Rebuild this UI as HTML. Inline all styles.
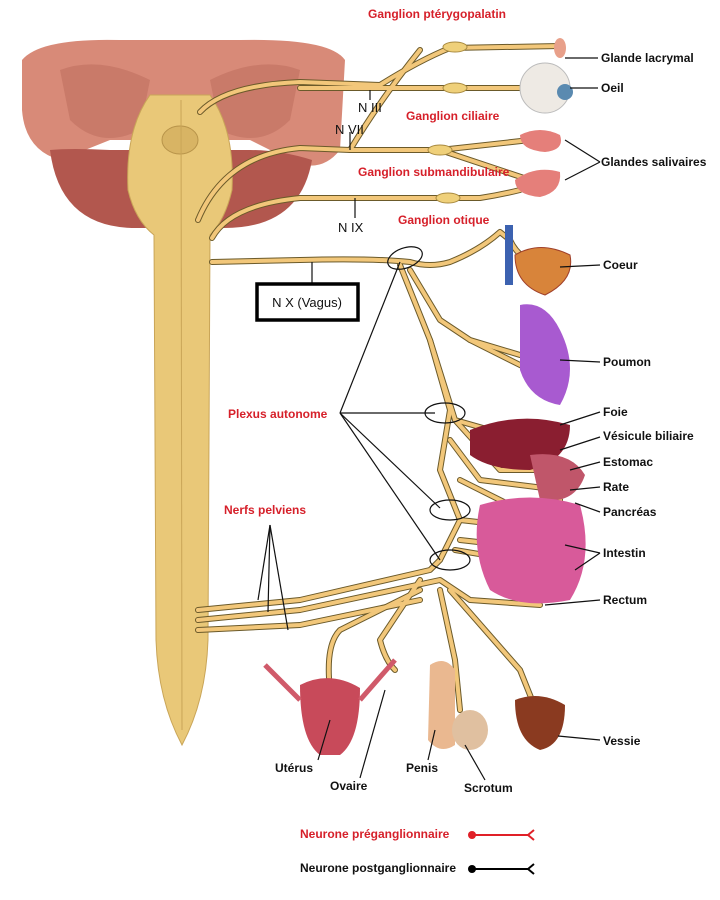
<!DOCTYPE html>
<html><head><meta charset="utf-8"><style>
html,body{margin:0;padding:0;background:#fff}
svg{display:block}
.r{font-family:"Liberation Sans",sans-serif;font-weight:bold;font-size:12px;fill:#d6202a}
.k{font-family:"Liberation Sans",sans-serif;font-weight:bold;font-size:12px;fill:#111}
.n{font-family:"Liberation Sans",sans-serif;font-size:13px;fill:#111}
.ln{fill:none;stroke:#111;stroke-width:1.2}
</style></head><body>
<svg width="720" height="900" viewBox="0 0 720 900" xmlns="http://www.w3.org/2000/svg">
<defs>
<g id="nerves" fill="none">
<path d="M200,112 Q225,85 300,82 L380,85 Q420,60 450,48 L560,46"/>
<path d="M300,88 L560,88"/>
<path d="M198,220 Q225,155 300,148 L350,150 Q380,100 420,50"/>
<path d="M350,150 L440,150 L530,140"/>
<path d="M440,150 L530,180"/>
<path d="M212,238 Q230,205 300,198 L420,198 L480,198 Q500,195 520,190"/>
<path d="M212,262 L300,260 Q370,258 410,262 Q430,268 450,262 Q480,250 500,232 L510,240 Q520,262 545,265"/>
<path d="M400,265 L430,340 L450,410 L440,470 L460,520 L440,560"/>
<path d="M410,270 L440,320 L470,340 L520,355"/>
<path d="M470,340 L530,370"/>
<path d="M430,340 L455,420 L490,430 L520,430"/>
<path d="M455,420 L500,470 L540,470"/>
<path d="M450,440 L480,480 L560,490"/>
<path d="M460,480 L520,510 L560,500"/>
<path d="M460,520 L550,530"/>
<path d="M460,540 L550,550"/>
<path d="M455,550 L545,565"/>
<path d="M198,610 L300,600 L430,570 L440,560"/>
<path d="M198,620 L300,610 L440,580 L470,600 L540,605"/>
<path d="M198,630 L300,625 L420,600"/>
<path d="M420,580 L380,640 Q385,660 395,670"/>
<path d="M420,590 L340,630 Q325,645 330,690"/>
<path d="M440,590 L455,660 L460,710"/>
<path d="M450,590 L520,670 L540,720"/>
</g>
</defs>
<!-- brain -->
<path d="M22,60 Q40,38 120,40 L240,40 Q330,38 345,60 L340,150 Q320,175 290,160 L250,140 L110,140 L60,160 Q25,150 22,110 Z" fill="#d88a78"/>
<path d="M50,150 Q60,230 140,228 L220,228 Q300,230 312,160 Q280,150 250,150 L110,150 Q70,148 50,150Z" fill="#b2574e"/>
<path d="M60,70 Q100,55 150,80 L140,130 Q100,150 70,120Z" fill="#c97a69"/>
<path d="M300,70 Q260,55 210,80 L220,130 Q260,150 290,120Z" fill="#c97a69"/>
<!-- brainstem & cord -->
<path d="M150,95 L210,95 Q235,130 232,190 Q225,220 210,235 L208,640 Q206,700 182,745 Q158,700 156,640 L154,235 Q135,220 128,190 Q125,130 150,95Z" fill="#e9c878" stroke="#c9a558" stroke-width="1"/>
<ellipse cx="180" cy="140" rx="18" ry="14" fill="#d8b464" stroke="#b8944a"/>
<line x1="181" y1="100" x2="182" y2="730" stroke="#c9a558" stroke-width="1"/>
<!-- nerves -->
<use href="#nerves" stroke="#6b5a2a" stroke-width="6" stroke-linecap="round" stroke-linejoin="round"/>
<use href="#nerves" stroke="#f2c77a" stroke-width="4" stroke-linecap="round" stroke-linejoin="round"/>
<!-- ganglia -->
<g fill="#efd07a" stroke="#a88a40"><ellipse cx="455" cy="47" rx="12" ry="5"/><ellipse cx="455" cy="88" rx="12" ry="5"/><ellipse cx="440" cy="150" rx="12" ry="5"/><ellipse cx="448" cy="198" rx="12" ry="5"/></g>
<!-- organs -->
<ellipse cx="560" cy="48" rx="6" ry="10" fill="#e8a08a"/>
<circle cx="545" cy="88" r="25" fill="#eeeae4" stroke="#bbb"/><circle cx="565" cy="92" r="8" fill="#5a8ab0"/>
<path d="M520,135 Q540,125 560,135 Q565,150 545,152 Q520,150 520,135Z" fill="#e57f7a"/>
<path d="M515,180 Q535,165 560,172 Q562,192 540,197 Q515,195 515,180Z" fill="#e57f7a"/>
<rect x="505" y="225" width="8" height="60" fill="#3c62b0"/>
<path d="M515,255 Q540,240 570,255 Q575,280 545,295 Q515,285 515,255Z" fill="#d8843a" stroke="#a0402a"/>
<path d="M520,305 Q545,300 560,330 Q580,370 560,405 Q530,400 520,370Z" fill="#a85ad0"/>
<path d="M470,430 Q520,410 570,425 Q570,460 530,470 Q490,470 470,455Z" fill="#8a1e30"/>
<path d="M530,455 Q570,450 585,475 Q575,505 540,500Z" fill="#c0566a"/>
<path d="M480,505 Q530,490 580,505 Q595,560 570,600 Q520,610 490,590 Q470,550 480,505Z" fill="#d85a9a"/>
<path d="M515,700 Q540,690 565,705 Q565,745 540,750 Q515,740 515,700Z" fill="#8a3a20"/>
<path d="M300,685 Q330,670 360,688 Q360,740 340,755 L320,755 Q300,740 300,685Z" fill="#c84a5a"/>
<path d="M265,665 L300,700 M395,660 L360,700" stroke="#d05a6a" stroke-width="5" fill="none"/>
<path d="M430,665 Q445,655 455,670 L455,745 Q440,755 428,740Z" fill="#eab890"/>
<ellipse cx="470" cy="730" rx="18" ry="20" fill="#e0c0a0"/>
<!-- pointer lines -->
<g class="ln">
<line x1="565" y1="58" x2="598" y2="58"/><line x1="570" y1="88" x2="598" y2="88"/>
<line x1="565" y1="140" x2="600" y2="162"/><line x1="565" y1="180" x2="600" y2="162"/>
<line x1="560" y1="267" x2="600" y2="265"/><line x1="560" y1="360" x2="600" y2="362"/>
<line x1="560" y1="425" x2="600" y2="412"/><line x1="560" y1="450" x2="600" y2="437"/>
<line x1="570" y1="470" x2="600" y2="462"/><line x1="570" y1="490" x2="600" y2="487"/>
<line x1="575" y1="503" x2="600" y2="512"/><line x1="565" y1="545" x2="600" y2="553"/><line x1="575" y1="570" x2="600" y2="553"/>
<line x1="545" y1="605" x2="600" y2="600"/><line x1="558" y1="736" x2="600" y2="740"/>
<line x1="330" y1="720" x2="318" y2="760"/><line x1="385" y1="690" x2="360" y2="778"/>
<line x1="435" y1="730" x2="428" y2="760"/><line x1="465" y1="745" x2="485" y2="780"/>
<line x1="312" y1="262" x2="312" y2="292"/><line x1="370" y1="90" x2="370" y2="100"/><line x1="350" y1="132" x2="350" y2="150"/><line x1="355" y1="198" x2="355" y2="218"/>
<line x1="340" y1="413" x2="400" y2="262"/><line x1="340" y1="413" x2="435" y2="413"/><line x1="340" y1="413" x2="440" y2="508"/><line x1="340" y1="413" x2="440" y2="560"/>
<line x1="270" y1="525" x2="258" y2="600"/><line x1="270" y1="525" x2="268" y2="612"/><line x1="270" y1="525" x2="288" y2="630"/>
</g>
<g fill="none" stroke="#111" stroke-width="1.2">
<ellipse cx="405" cy="258" rx="18" ry="10" transform="rotate(-20 405 258)"/>
<ellipse cx="445" cy="413" rx="20" ry="10"/><ellipse cx="450" cy="510" rx="20" ry="10"/><ellipse cx="450" cy="560" rx="20" ry="10"/>
</g>
<rect x="257" y="284" width="101" height="36" fill="#fff" stroke="#000" stroke-width="3.5"/>
<text x="307" y="307" class="n" text-anchor="middle">N X (Vagus)</text>
<text x="358" y="112" class="n">N III</text><text x="335" y="134" class="n">N VII</text><text x="338" y="232" class="n">N IX</text>
<!-- labels -->
<text x="368" y="18" class="r">Ganglion ptérygopalatin</text>
<text x="406" y="120" class="r">Ganglion ciliaire</text>
<text x="358" y="176" class="r">Ganglion submandibulaire</text>
<text x="398" y="224" class="r">Ganglion otique</text>
<text x="228" y="418" class="r">Plexus autonome</text>
<text x="224" y="514" class="r">Nerfs pelviens</text>
<text x="601" y="62" class="k">Glande lacrymal</text>
<text x="601" y="92" class="k">Oeil</text>
<text x="601" y="166" class="k">Glandes salivaires</text>
<text x="603" y="269" class="k">Coeur</text>
<text x="603" y="366" class="k">Poumon</text>
<text x="603" y="416" class="k">Foie</text>
<text x="603" y="440" class="k">Vésicule biliaire</text>
<text x="603" y="466" class="k">Estomac</text>
<text x="603" y="491" class="k">Rate</text>
<text x="603" y="516" class="k">Pancréas</text>
<text x="603" y="557" class="k">Intestin</text>
<text x="603" y="604" class="k">Rectum</text>
<text x="603" y="745" class="k">Vessie</text>
<text x="275" y="772" class="k">Utérus</text>
<text x="330" y="790" class="k">Ovaire</text>
<text x="406" y="772" class="k">Penis</text>
<text x="464" y="792" class="k">Scrotum</text>
<text x="300" y="838" class="r">Neurone préganglionnaire</text>
<text x="300" y="872" class="k">Neurone postganglionnaire</text>
<circle cx="472" cy="835" r="4" fill="#e02028"/><line x1="472" y1="835" x2="528" y2="835" stroke="#e02028" stroke-width="2"/><path d="M534,830 L528,835 L534,840" stroke="#e02028" stroke-width="2" fill="none"/>
<circle cx="472" cy="869" r="4" fill="#000"/><line x1="472" y1="869" x2="528" y2="869" stroke="#000" stroke-width="2"/><path d="M534,864 L528,869 L534,874" stroke="#000" stroke-width="2" fill="none"/>
</svg>
</body></html>
